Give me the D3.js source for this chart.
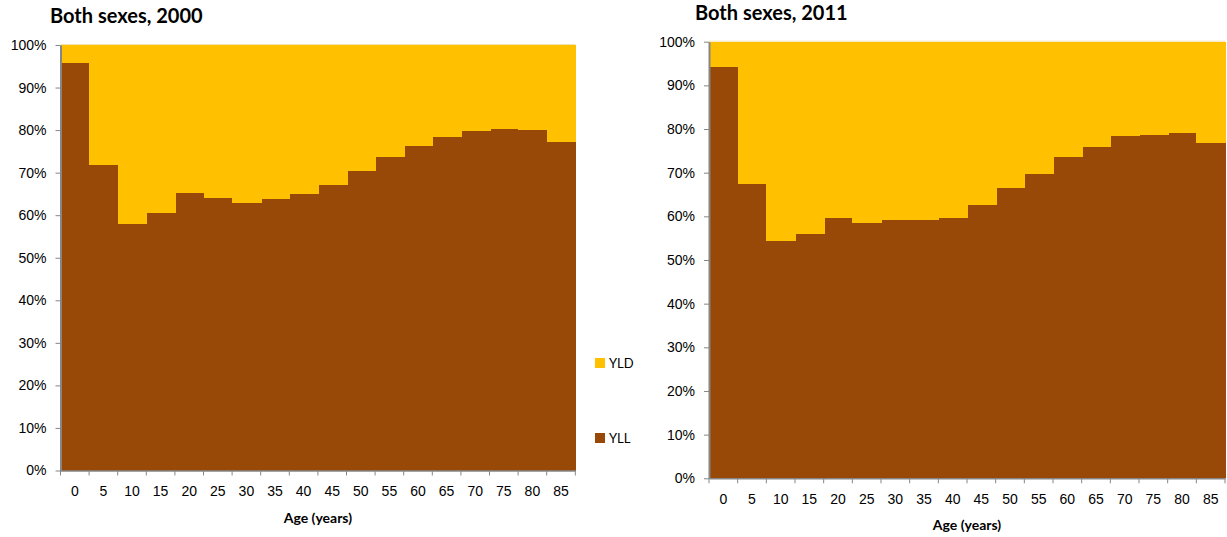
<!DOCTYPE html>
<html>
<head>
<meta charset="utf-8">
<script src="https://cdn.jsdelivr.net/npm/d3@7/dist/d3.min.js"></script>
<style>
  html, body { margin: 0; padding: 0; background: #fff; }
  svg { display: block; font-family: Lato, "Liberation Sans", Arial, sans-serif; }
</style>
</head>
<body>
<svg id="chart" width="1227" height="537"></svg>
<script>
// Age groups (start of each 5-year band)
const ages = ["0","5","10","15","20","25","30","35","40","45","50","55","60","65","70","75","80","85"];
// Share of DALYs from years of life lost (%), by age group
const yll2000 = [95.8, 71.8, 58.0, 60.5, 65.3, 64.1, 62.9, 63.7, 65.0, 67.1, 70.3, 73.7, 76.2, 78.4, 79.8, 80.2, 80.1, 77.3];
const yll2011 = [94.3, 67.3, 54.3, 56.0, 59.6, 58.5, 59.1, 59.1, 59.7, 62.6, 66.5, 69.6, 73.6, 75.9, 78.3, 78.6, 79.1, 76.8];
const yTicks = [0, 10, 20, 30, 40, 50, 60, 70, 80, 90, 100];
const seriesKeys = ["YLL", "YLD"];
const colors = { YLL: "#984807", YLD: "#FFC000" };
const axisColor = "#868686";

const svg = d3.select("#chart");

function drawPanel(opts) {
  const rows = ages.map((a, i) => ({ age: a, YLL: opts.yll[i], YLD: 100 - opts.yll[i] }));
  const series = d3.stack().keys(seriesKeys)(rows);

  const x = d3.scaleBand().domain(ages).range([opts.left, opts.right]).padding(0);
  const y = d3.scaleLinear().domain([0, 100]).range([opts.bottom, opts.top]);

  const g = svg.append("g");

  // stacked columns with no gap between them
  g.selectAll("g.series").data(series).join("g")
    .attr("fill", d => colors[d.key])
    .attr("shape-rendering", "crispEdges")
    .selectAll("rect").data(d => d).join("rect")
      .attr("x", d => x(d.data.age))
      .attr("width", x.bandwidth() + 1)
      .attr("y", d => y(d[1]))
      .attr("height", d => y(d[0]) - y(d[1]));

  // thin light edge along the top of the plot
  g.append("line").attr("x1", opts.left).attr("x2", opts.right)
    .attr("y1", y(100) - 0.5).attr("y2", y(100) - 0.5)
    .attr("stroke", "#f3e3b0").attr("stroke-width", 1);

  // y axis
  const yAxis = d3.axisLeft(y).tickValues(yTicks).tickFormat(d => d + "%").tickSize(5).tickSizeOuter(0);
  const ya = g.append("g").attr("transform", `translate(${opts.left},0)`).call(yAxis);
  ya.select(".domain").attr("stroke", axisColor).attr("stroke-width", 2);
  ya.selectAll(".tick line").attr("stroke", axisColor);
  ya.selectAll(".tick text").attr("x", -14).attr("fill", "#000")
    .style("font-size", "14px").style("font-family", "inherit");

  // x axis: labels centred in each band, ticks at band edges
  const xAxis = d3.axisBottom(x).tickSize(0).tickPadding(16);
  const xa = g.append("g").attr("transform", `translate(0,${opts.bottom})`).call(xAxis);
  xa.select(".domain").attr("stroke", axisColor).attr("stroke-width", 1.5);
  xa.selectAll(".tick text").attr("fill", "#000")
    .style("font-size", "14px").style("font-family", "inherit");
  const edges = ages.map(a => x(a)).concat([opts.right]);
  xa.selectAll("line.edge").data(edges).join("line").attr("class", "edge")
    .attr("x1", d => d).attr("x2", d => d).attr("y1", 0).attr("y2", 5)
    .attr("stroke", axisColor);

  // axis title
  g.append("text").attr("x", (opts.left + opts.right) / 2).attr("y", opts.bottom + 52)
    .attr("text-anchor", "middle").style("font-size", "14px").style("font-weight", "bold")
    .text("Age (years)");

  // panel title
  g.append("text").attr("x", opts.titleX).attr("y", opts.titleY)
    .style("font-size", "20px").style("font-weight", "bold").text(opts.title);

  return { x, y };
}

drawPanel({ yll: yll2000, left: 60.5, right: 575.3, top: 45, bottom: 470.5,
            title: "Both sexes, 2000", titleX: 50, titleY: 23 });
drawPanel({ yll: yll2011, left: 709, right: 1225, top: 41.7, bottom: 478.3,
            title: "Both sexes, 2011", titleX: 695, titleY: 20 });

// legend (top entry first, matching the stacking order)
const legend = svg.append("g");
const legendItems = [{ key: "YLD", y: 358 }, { key: "YLL", y: 433 }];
legend.selectAll("rect").data(legendItems).join("rect")
  .attr("x", 595).attr("y", d => d.y).attr("width", 10).attr("height", 10)
  .attr("fill", d => colors[d.key]);
legend.selectAll("text").data(legendItems).join("text")
  .attr("x", 609).attr("y", d => d.y + 5).attr("dy", "0.35em")
  .style("font-size", "13px").text(d => d.key);
</script>
</body>
</html>
